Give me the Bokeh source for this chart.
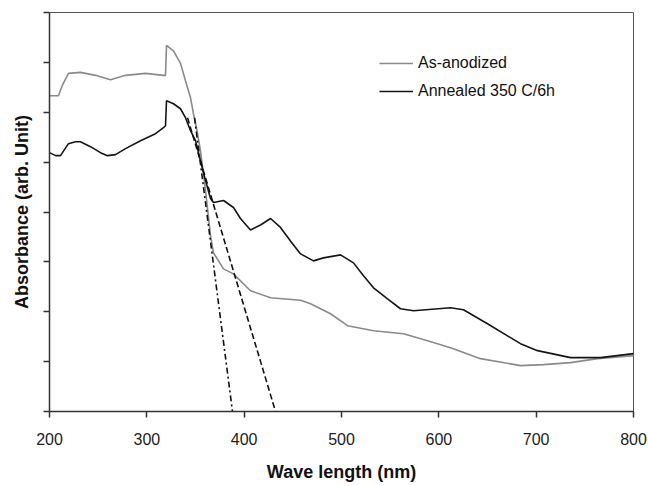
from bokeh.plotting import figure
from bokeh.models import Range1d, FixedTicker, Legend, LegendItem
from bokeh.embed import file_html
from bokeh.resources import INLINE

# ---- data ----
as_wl = [200, 209.2, 213.4, 219.5, 231.8, 247.3, 262.7, 278.1, 298.6, 317.1, 319.2,
         320.2, 327.4, 334.6, 339.7, 344.9, 347.9, 351.0, 355.1, 360.3, 365.4, 368.5,
         378.8, 389.0, 406.5, 427.1, 457.9, 468.2, 488.7, 506.2, 532.9, 563.7, 588.4,
         612.0, 642.8, 683.9, 707.5, 735.3, 763.0, 800]
as_abs = [6.33, 6.33, 6.55, 6.78, 6.80, 6.74, 6.65, 6.74, 6.78, 6.74, 6.74,
          7.34, 7.23, 6.98, 6.63, 6.29, 5.97, 5.69, 5.23, 4.43, 3.53, 3.18,
          2.86, 2.76, 2.42, 2.28, 2.23, 2.16, 1.96, 1.72, 1.62, 1.56, 1.42,
          1.28, 1.06, 0.92, 0.94, 0.98, 1.06, 1.12]

an_wl = [200, 206.2, 211.3, 219.5, 226.7, 231.8, 242.1, 252.4, 259.6, 267.8, 278.1,
         293.5, 308.9, 317.1, 319.2, 320.2, 327.4, 334.6, 339.7, 344.9, 350.0, 355.1,
         360.3, 365.4, 368.5, 378.8, 389.0, 396.2, 406.5, 416.8, 427.1, 437.3, 447.6,
         457.9, 471.2, 481.5, 499.0, 512.3, 522.6, 532.9, 547.3, 560.6, 574.0, 612.0,
         625.3, 650.0, 683.9, 701.4, 735.3, 766.1, 800]
an_abs = [5.19, 5.13, 5.13, 5.37, 5.41, 5.41, 5.31, 5.19, 5.13, 5.15, 5.27,
          5.43, 5.57, 5.69, 5.73, 6.23, 6.17, 6.07, 5.89, 5.63, 5.43, 5.03,
          4.63, 4.27, 4.19, 4.23, 4.09, 3.87, 3.64, 3.74, 3.87, 3.69, 3.42,
          3.16, 3.02, 3.08, 3.14, 2.98, 2.72, 2.48, 2.26, 2.06, 2.02, 2.08,
          2.04, 1.76, 1.36, 1.22, 1.08, 1.08, 1.16]

# tangent (band-edge) extrapolation lines
tan1_wl = [341.8, 432.2]
tan1_abs = [5.89, 0.0]
tan2_wl = [349.0, 388.0]
tan2_abs = [5.89, 0.0]

x_ticks = [200, 300, 400, 500, 600, 700, 800]
y_ticks = [0, 1, 2, 3, 4, 5, 6, 7, 8]

FONT = "Liberation Sans"

p = figure(frame_width=584, frame_height=399, output_backend="svg",
           toolbar_location=None, x_range=Range1d(200, 800), y_range=Range1d(0, 8),
           min_border_left=49, min_border_right=15, min_border_top=12, min_border_bottom=10)
p.background_fill_color = "white"
p.border_fill_color = "white"
p.outline_line_color = "#555555"
p.outline_line_width = 1
p.xgrid.visible = False
p.ygrid.visible = False

r_as = p.line(as_wl, as_abs, line_color="#8a8a8a", line_width=1.6)
r_an = p.line(an_wl, an_abs, line_color="#151515", line_width=1.6)
p.line(tan1_wl, tan1_abs, line_color="#111111", line_width=1.6, line_dash="6 3")
p.line(tan2_wl, tan2_abs, line_color="#111111", line_width=1.6, line_dash="6 3 2 3")

# x axis
xa = p.xaxis[0]
xa.ticker = FixedTicker(ticks=x_ticks)
xa.minor_tick_line_color = None
xa.major_tick_out = 6
xa.major_tick_in = 0
xa.major_tick_line_color = "#333333"
xa.major_tick_line_width = 1.5
xa.axis_line_color = "#333333"
xa.axis_line_width = 1.5
xa.major_label_text_font = FONT
xa.major_label_text_font_size = "16px"
xa.major_label_text_color = "#222222"
xa.major_label_standoff = 15
xa.axis_label = "Wave length (nm)"
xa.axis_label_text_font = FONT
xa.axis_label_text_font_size = "18px"
xa.axis_label_text_font_style = "bold"
xa.axis_label_text_color = "#111111"
xa.axis_label_standoff = 14

# y axis (no tick labels)
ya = p.yaxis[0]
ya.ticker = FixedTicker(ticks=y_ticks)
ya.major_label_overrides = {t: "" for t in y_ticks}
ya.minor_tick_line_color = None
ya.major_tick_out = 6
ya.major_tick_in = 0
ya.major_tick_line_color = "#333333"
ya.major_tick_line_width = 1.5
ya.axis_line_color = "#333333"
ya.axis_line_width = 1.5
ya.major_label_standoff = 0
ya.axis_label = "Absorbance (arb. Unit)"
ya.axis_label_text_font = FONT
ya.axis_label_text_font_size = "18px"
ya.axis_label_text_font_style = "bold"
ya.axis_label_text_color = "#111111"
ya.axis_label_standoff = 12

legend = Legend(items=[LegendItem(label="As-anodized", renderers=[r_as]),
                       LegendItem(label="Annealed 350 C/6h", renderers=[r_an])],
                location=(330, 310), orientation="vertical",
                glyph_width=34, glyph_height=20, label_height=20, label_standoff=5,
                spacing=8, padding=0, margin=0,
                border_line_color=None, background_fill_alpha=0,
                label_text_font=FONT, label_text_font_size="16px",
                label_text_color="#111111")
p.add_layout(legend, "center")

open("out.html", "w").write(file_html(p, INLINE))
